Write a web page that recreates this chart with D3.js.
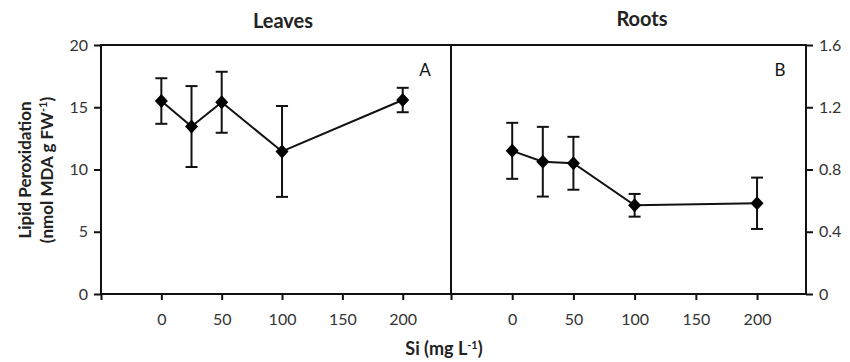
<!DOCTYPE html>
<html><head><meta charset="utf-8">
<script src="https://cdn.jsdelivr.net/npm/d3@7"></script>
<style>body{margin:0;background:#fff}svg{display:block}</style>
</head><body><svg id="c" width="850" height="362"></svg>
<script>
const siLevels = [0, 25, 50, 100, 200];
const leavesMean = [15.5, 13.45, 15.4, 11.45, 15.58];
const leavesErr = [1.83, 3.25, 2.45, 3.65, 0.98];
const rootsMean = [0.92, 0.85, 0.84, 0.57, 0.583];
const rootsErr = [0.18, 0.224, 0.17, 0.073, 0.165];
const xTicks = [0, 50, 100, 150, 200];
const leavesTicks = [0, 5, 10, 15, 20];
const rootsTicks = [0, 0.4, 0.8, 1.2, 1.6];

const svg = d3.select("#c");
const font = "Lato, 'Open Sans', sans-serif";
const plotTop = 45, plotBottom = 294;
const col = "#111";

function panel(x0, x1, mean, err, yMax, yTicks, side, title, letter, titleX, titleY, fmt) {
  const x = d3.scaleLinear().domain([-50, 240]).range([x0, x1]);
  const y = d3.scaleLinear().domain([0, yMax]).range([plotBottom, plotTop]);
  const g = svg.append("g");
  g.append("rect").attr("x", x0).attr("y", plotTop).attr("width", x1 - x0).attr("height", plotBottom - plotTop)
    .attr("fill", "none").attr("stroke", col).attr("stroke-width", 2);
  const xa = g.append("g").attr("transform", `translate(0,${plotBottom})`)
    .call(d3.axisBottom(x).tickValues([-50].concat(xTicks)).tickSize(6).tickPadding(14)
      .tickFormat(d => d < 0 ? "" : d));
  const ya = g.append("g").attr("transform", `translate(${side === "left" ? x0 : x1},0)`)
    .call((side === "left" ? d3.axisLeft(y) : d3.axisRight(y)).tickValues(yTicks).tickSize(7).tickPadding(6).tickFormat(fmt));
  [xa, ya].forEach(a => {
    a.select(".domain").remove();
    a.selectAll("line").attr("stroke", col).attr("stroke-width", 2);
    a.selectAll("text").attr("fill", "#333").style("font-family", font).style("font-size", "16px");
  });
  const pts = siLevels.map((s, i) => [x(s), y(mean[i])]);
  g.append("path").attr("d", d3.line()(pts)).attr("fill", "none").attr("stroke", col).attr("stroke-width", 2);
  siLevels.forEach((s, i) => {
    const cx = x(s), yt = y(mean[i] + err[i]), yb = y(mean[i] - err[i]);
    g.append("line").attr("x1", cx).attr("x2", cx).attr("y1", yt).attr("y2", yb).attr("stroke", col).attr("stroke-width", 2);
    [yt, yb].forEach(yy => g.append("line").attr("x1", cx - 6).attr("x2", cx + 6).attr("y1", yy).attr("y2", yy)
      .attr("stroke", col).attr("stroke-width", 2));
  });
  g.selectAll("path.m").data(pts).enter().append("path").attr("class", "m")
    .attr("d", d => `M${d[0]},${d[1] - 7}L${d[0] + 6.5},${d[1]}L${d[0]},${d[1] + 7}L${d[0] - 6.5},${d[1]}Z`)
    .attr("fill", "#000");
  g.append("text").attr("x", titleX).attr("y", titleY).attr("text-anchor", "middle")
    .style("font-family", font).style("font-weight", "bold").style("font-size", "20px").attr("fill", "#222").text(title);
  g.append("text").attr("x", x1 - 26).attr("y", 76).attr("text-anchor", "middle")
    .style("font-family", font).style("font-size", "17px").attr("fill", "#111").text(letter);
}

panel(101, 451, leavesMean, leavesErr, 20, leavesTicks, "left", "Leaves", "A", 283, 28, d => d);
panel(451, 806, rootsMean, rootsErr, 1.6, rootsTicks, "right", "Roots", "B", 642, 26, d => d === 0 ? "0" : d3.format(".1f")(d));

const yTitle = svg.append("text").attr("transform", "translate(0,170) rotate(-90)").attr("text-anchor", "middle")
  .style("font-family", font).style("font-weight", "bold").style("font-size", "17px").attr("fill", "#222");
yTitle.append("tspan").attr("x", 0).attr("y", 31).text("Lipid Peroxidation");
const t2 = yTitle.append("tspan").attr("x", 0).attr("y", 53).text("(nmol MDA g FW");
t2.append("tspan").attr("dy", -6).style("font-size", "11px").text("-1");
t2.append("tspan").attr("dy", 6).text(")");
const xTitle = svg.append("text").attr("x", 444).attr("y", 355).attr("text-anchor", "middle")
  .style("font-family", font).style("font-weight", "bold").style("font-size", "18px").attr("fill", "#222");
xTitle.append("tspan").text("Si (mg L");
xTitle.append("tspan").attr("dy", -6).style("font-size", "11px").text("-1");
xTitle.append("tspan").attr("dy", 6).text(")");
</script></body></html>
